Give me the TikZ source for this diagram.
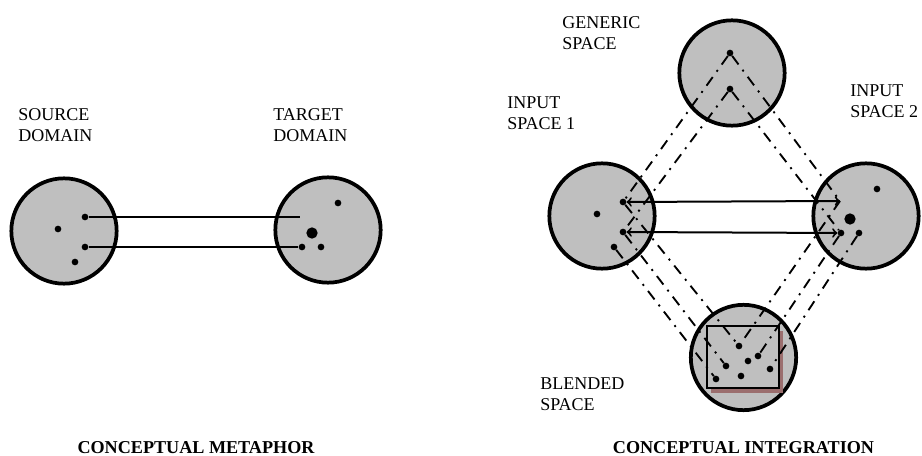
\documentclass[tikz,border=0pt]{standalone}
\usepackage{fontspec}
\setmainfont{Liberation Serif}
\definecolor{framebrown}{RGB}{155,110,110}
\begin{document}
\begin{tikzpicture}[
  x = 0.75pt, y = -0.75pt,
  space/.style={circle, draw, line width=2.8pt, fill=black!25, minimum size=79pt, inner sep=0},
  spot/.style={circle, fill=black, inner sep=0, minimum size=5pt},
  bigspot/.style={spot, minimum size=8.5pt},
  link/.style={line width=1.5pt},
  mapping/.style={link, <->, >=to},
  proj/.style={line width=1.4pt, dash pattern=on 8pt off 5pt on 1.5pt off 5pt},
  lbl/.style={anchor=base west, inner sep=0, align=left, font=\fontsize{13.5}{15.75}\selectfont},
  title/.style={anchor=base, inner sep=0, font=\fontsize{13.6}{16}\selectfont\bfseries}
]
%general params
\useasboundingbox (0,0) rectangle (922,456);

%metaphor: source and target
\node[space] (src) at (64,231) {};
\node[space] (tgt) at (328,230) {};
\node[lbl] at (18,142) {SOURCE\\DOMAIN};
\node[lbl] at (273,142) {TARGET\\DOMAIN};

\node[spot] (s0) at (58,229) {};
\node[spot] (s1) at (85,217) {};
\node[spot] (s2) at (85,247) {};
\node[spot] (s3) at (75,262) {};
\node[spot] (t0) at (338,203) {};
\node[bigspot] (t1) at (312,233) {};
\node[spot] (t2) at (302,247) {};
\node[spot] (t3) at (321,247) {};
\coordinate (t4) at (300,217);

\draw[link] (s1) -- (t4);
\draw[link] (s2) -- (t2);

%integration: the four spaces
\node[space] (gen) at (732,73) {};
\node[space] (in1) at (602,216) {};
\node[space] (in2) at (866,216) {};
\node[space] (blend) at (743.5,357.5) {};

\node[lbl] at (562,50) {GENERIC\\SPACE};
\node[lbl] at (507,130) {INPUT\\SPACE 1};
\node[lbl] at (850,118) {INPUT\\SPACE 2};
\node[lbl] at (540,410) {BLENDED\\SPACE};

%blend frame with its shadow
\fill[framebrown] (711,331) rectangle (783,393);
\draw[line width=1.5pt, fill=black!25] (707,326) rectangle (779,388);

%elements
\node[spot] (g1) at (730,53) {};
\node[spot] (g2) at (730,89) {};

\node[spot] (a0) at (597,214) {};
\node[spot] (a1) at (623,202) {};
\node[spot] (a2) at (623,232) {};
\node[spot] (a3) at (614,247) {};

\coordinate (b1) at (840,201);
\node[spot] (b0) at (877,189) {};
\node[bigspot] (bb) at (850,219) {};
\node[spot] (b2) at (841,233) {};
\node[spot] (b3) at (859,233) {};

\node[spot] (c1) at (739,346) {};
\node[spot] (c2) at (726,366) {};
\node[spot] (c3) at (716,379) {};
\node[spot] (c4) at (758,356) {};
\node[spot] (c5) at (770,369) {};
\node[spot] (c6) at (748,361) {};
\node[spot] (c7) at (741,376) {};

%cross-space mappings
\draw[mapping] (a1) -- (b1);
\draw[mapping] (a2) -- (b2);

%projections
\draw[proj] (g1) -- (a1);
\draw[proj] (g2) -- (a2);
\draw[proj] (g1) -- (b1);
\draw[proj] (g2) -- (b2);

\draw[proj] (a1) -- (c1);
\draw[proj] (a2) -- (c2);
\draw[proj] (a3) -- (c3);
\draw[proj] (b1) -- (c1);
\draw[proj] (b2) -- (c4);
\draw[proj] (b3) -- (c5);

%titles
\node[title] (tmeta) at (196,453) {CONCEPTUAL METAPHOR};
\node[title] (tint) at (743.5,453) {CONCEPTUAL INTEGRATION};

\end{tikzpicture}
\end{document}
